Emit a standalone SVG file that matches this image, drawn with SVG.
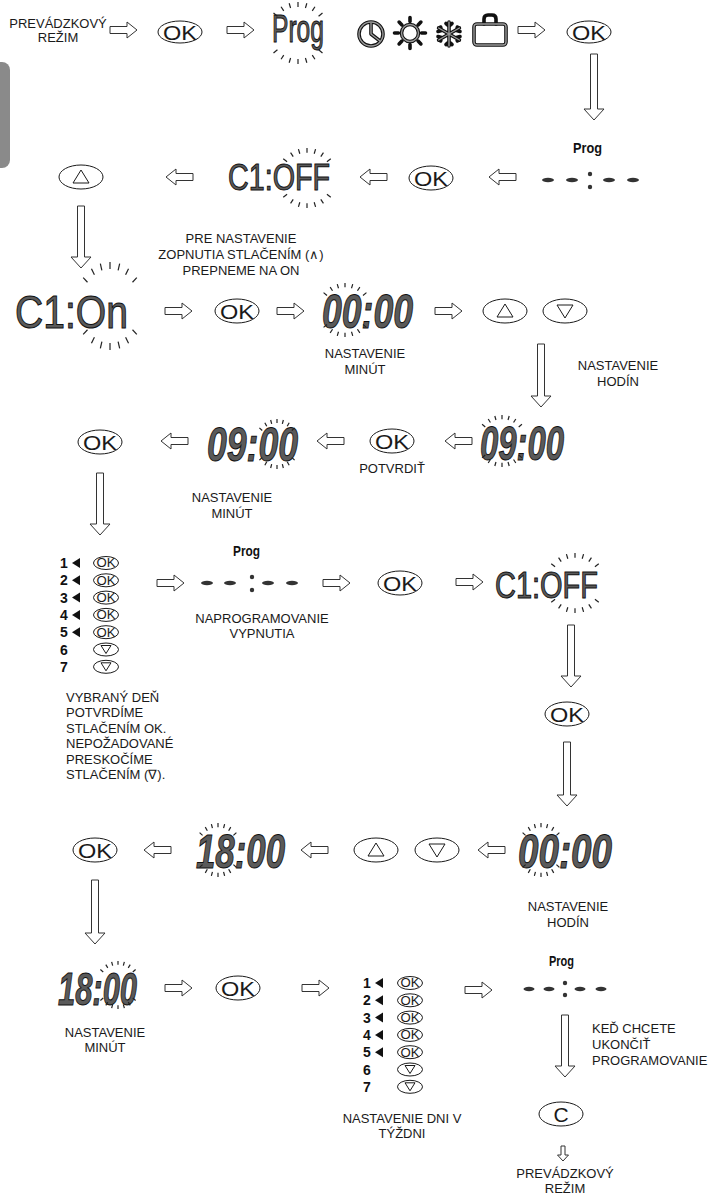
<svg xmlns="http://www.w3.org/2000/svg" xmlns:xlink="http://www.w3.org/1999/xlink" width="713" height="1196" viewBox="0 0 713 1196">
<style>
.lbl{font-family:"Liberation Sans",Arial,sans-serif;font-size:13px;fill:#1a1a1a}
.c{text-anchor:middle}
.ov{fill:#fff;stroke:#1a1a1a;stroke-width:1}
.ok{font-family:"Liberation Sans",Arial,sans-serif;font-size:21px;fill:#1a1a1a;text-anchor:middle}
.oks{font-family:"Liberation Sans",Arial,sans-serif;font-size:12px;fill:#1a1a1a;text-anchor:middle}
.arr{fill:#fff;stroke:#333;stroke-width:1}
.lcd{font-family:"Liberation Sans",Arial,sans-serif;font-style:italic;font-weight:bold;fill:#5a5a5a;stroke:#111;stroke-width:1}
.big{font-family:"Liberation Sans",Arial,sans-serif;fill:#5a5a5a;stroke:#111;stroke-width:1}
.prog{font-family:"Liberation Sans",Arial,sans-serif;font-weight:bold;font-size:14px;fill:#111}
.num{font-family:"Liberation Sans",Arial,sans-serif;font-weight:bold;font-size:14px;fill:#111}
.tick{stroke:#222;stroke-width:1.2;fill:none}
.dash{fill:#333}
.tri{fill:none;stroke:#1a1a1a;stroke-width:1}
.ico{fill:none;stroke:#111;stroke-width:3.6;stroke-linecap:round;stroke-linejoin:round}
.ico2{fill:none;stroke:#9a9a9a;stroke-width:1.4;stroke-linecap:round;stroke-linejoin:round}
.larr{fill:#111}
</style>
<defs>
<path id="ra" d="M0,-3.5H17V-8L27,0L17,8V3.5H0Z"/>
<path id="la" d="M27,-3.5H10V-8L0,0L10,8V3.5H27Z"/>
<g id="burst" class="tick">
<line x1="-0.643" y1="-0.540" x2="-0.766" y2="-0.643" vector-effect="non-scaling-stroke"/>
<line x1="-0.445" y1="-0.712" x2="-0.530" y2="-0.848" vector-effect="non-scaling-stroke"/>
<line x1="-0.232" y1="-0.807" x2="-0.276" y2="-0.961" vector-effect="non-scaling-stroke"/>
<line x1="0" y1="-0.84" x2="0" y2="-1" vector-effect="non-scaling-stroke"/>
<line x1="0.232" y1="-0.807" x2="0.276" y2="-0.961" vector-effect="non-scaling-stroke"/>
<line x1="0.445" y1="-0.712" x2="0.530" y2="-0.848" vector-effect="non-scaling-stroke"/>
<line x1="0.643" y1="-0.540" x2="0.766" y2="-0.643" vector-effect="non-scaling-stroke"/>
<line x1="-0.643" y1="0.540" x2="-0.766" y2="0.643" vector-effect="non-scaling-stroke"/>
<line x1="-0.445" y1="0.712" x2="-0.530" y2="0.848" vector-effect="non-scaling-stroke"/>
<line x1="-0.232" y1="0.807" x2="-0.276" y2="0.961" vector-effect="non-scaling-stroke"/>
<line x1="0" y1="0.84" x2="0" y2="1" vector-effect="non-scaling-stroke"/>
<line x1="0.232" y1="0.807" x2="0.276" y2="0.961" vector-effect="non-scaling-stroke"/>
<line x1="0.445" y1="0.712" x2="0.530" y2="0.848" vector-effect="non-scaling-stroke"/>
<line x1="0.643" y1="0.540" x2="0.766" y2="0.643" vector-effect="non-scaling-stroke"/>
</g>
</defs>
<rect x="0" y="0" width="713" height="1196" fill="#fff"/>
<rect x="-10" y="62" width="20" height="106" rx="8" fill="#8a8a8a"/>

<g id="connectors">
<use href="#ra" class="arr" x="110" y="30"/>
<use href="#ra" class="arr" x="227" y="30"/>
<use href="#ra" class="arr" x="518" y="30"/>
<path class="arr" d="M590.5,54V109H584L594,120L604,109H597.5V54Z"/>
<use href="#la" class="arr" x="489" y="177"/>
<use href="#la" class="arr" x="360" y="177"/>
<use href="#la" class="arr" x="166" y="177"/>
<path class="arr" d="M77.5,206V257H71L81,268L91,257H84.5V206Z"/>
<use href="#ra" class="arr" x="165" y="311"/>
<use href="#ra" class="arr" x="277" y="311"/>
<use href="#ra" class="arr" x="435" y="311"/>
<path class="arr" d="M537.5,344V396H531L541,407L551,396H544.5V344Z"/>
<use href="#la" class="arr" x="445" y="441"/>
<use href="#la" class="arr" x="317" y="441"/>
<use href="#la" class="arr" x="161" y="441"/>
<path class="arr" d="M96.5,473V524H90L100,535L110,524H103.5V473Z"/>
<use href="#ra" class="arr" x="157" y="583"/>
<use href="#ra" class="arr" x="323" y="583"/>
<use href="#ra" class="arr" x="456" y="582"/>
<path class="arr" d="M567.5,625V676H561L571,687L581,676H574.5V625Z"/>
<path class="arr" d="M563.5,742V795H557L567,806L577,795H570.5V742Z"/>
<use href="#la" class="arr" x="144" y="850"/>
<use href="#la" class="arr" x="301" y="850"/>
<use href="#la" class="arr" x="478" y="850"/>
<path class="arr" d="M91.5,880V933H85L95,944L105,933H98.5V880Z"/>
<use href="#ra" class="arr" x="165" y="988"/>
<use href="#ra" class="arr" x="302" y="988"/>
<use href="#ra" class="arr" x="465" y="990"/>
<path class="arr" d="M561.5,1015V1066H555L565,1077L575,1066H568.5V1015Z"/>
<path class="arr" d="M561,1146V1155H557.5L563,1161L568.5,1155H565V1146Z"/>
</g>

<g id="n-mode-start">
<text class="lbl c" x="58" y="27.5">PREVÁDZKOVÝ</text>
<text class="lbl c" x="58" y="41.5">REŽIM</text>
</g>
<g id="n-ok1"><ellipse class="ov" cx="180" cy="32" rx="22" ry="11"/><text class="ok" x="180" y="39.5" textLength="34" lengthAdjust="spacingAndGlyphs">OK</text></g>
<g id="n-prog1">
<text class="big" x="272" y="42" font-size="38" textLength="52" lengthAdjust="spacingAndGlyphs">Prog</text>
<use href="#burst" transform="translate(298,33) scale(32,31)"/>
</g>
<g id="n-icons">
<circle class="ico" cx="371" cy="34" r="12"/><path class="ico" d="M371,23V34L380,41"/>
<circle class="ico2" cx="371" cy="34" r="12"/><path class="ico2" d="M371,23V34L380,41"/>
<g>
<circle class="ico" cx="410" cy="33" r="8.5"/>
<path class="ico" d="M410,21.5v-4M410,44.5v4M398.5,33h-4M421.5,33h4M401.9,24.9l-2.8,-2.8M418.1,24.9l2.8,-2.8M401.9,41.1l-2.8,2.8M418.1,41.1l2.8,2.8"/>
<circle class="ico2" cx="410" cy="33" r="8.5"/>
</g>
<g>
<path class="ico" d="M449,22V46M438.6,28L459.4,40M438.6,40L459.4,28M446,23.5L449,26L452,23.5M446,44.5L449,42L452,44.5M438,31.5L441.5,30.5L440.6,27M460,31.5L456.5,30.5L457.4,27M438,36.5L441.5,37.5L440.6,41M460,36.5L456.5,37.5L457.4,41"/>
<path class="ico2" d="M449,22V46M438.6,28L459.4,40M438.6,40L459.4,28"/>
</g>
<g>
<rect class="ico" x="474" y="24" width="32" height="21" rx="3"/>
<path class="ico" d="M484,24V19Q484,15 488,15H492Q496,15 496,19V24"/>
<rect class="ico2" x="474" y="24" width="32" height="21" rx="3"/>
</g>
</g>
<g id="n-ok2"><ellipse class="ov" cx="589" cy="32" rx="22" ry="11"/><text class="ok" x="589" y="39.5" textLength="34" lengthAdjust="spacingAndGlyphs">OK</text></g>

<g id="n-disp-r2">
<text class="prog" x="573" y="153" textLength="29" lengthAdjust="spacingAndGlyphs">Prog</text>
<ellipse class="dash" cx="548" cy="180" rx="6" ry="2.2"/>
<ellipse class="dash" cx="572" cy="180" rx="6" ry="2.2"/>
<circle class="dash" cx="590" cy="174" r="2.2"/>
<circle class="dash" cx="590" cy="187" r="2.2"/>
<ellipse class="dash" cx="609" cy="180" rx="6" ry="2.2"/>
<ellipse class="dash" cx="633" cy="180" rx="6" ry="2.2"/>
</g>
<g id="n-ok3"><ellipse class="ov" cx="431" cy="178" rx="22" ry="12"/><text class="ok" x="431" y="185.5" textLength="34" lengthAdjust="spacingAndGlyphs">OK</text></g>
<g id="n-c1off-1">
<text class="big" x="228" y="190" font-size="36" textLength="102" lengthAdjust="spacingAndGlyphs">C1:OFF</text>
<use href="#burst" transform="translate(307,178) scale(31,30)"/>
</g>
<g id="n-up1"><ellipse class="ov" cx="81" cy="177" rx="22" ry="12"/><polygon class="tri" points="73,183 81,170 89,183"/></g>

<g id="n-note1">
<text class="lbl c" x="241" y="242.5">PRE NASTAVENIE</text>
<text class="lbl c" x="241" y="258.5">ZOPNUTIA STLAČENÍM (∧)</text>
<text class="lbl c" x="241" y="274.5">PREPNEME NA ON</text>
</g>
<g id="n-c1on">
<text class="big" x="15" y="328" font-size="46" textLength="113" lengthAdjust="spacingAndGlyphs">C1:On</text>
<use href="#burst" transform="translate(110,306) scale(35,44)"/>
</g>
<g id="n-ok4"><ellipse class="ov" cx="237" cy="311" rx="22" ry="12"/><text class="ok" x="237" y="318.5" textLength="34" lengthAdjust="spacingAndGlyphs">OK</text></g>
<g id="n-0000-1">
<text class="lcd" x="322" y="328" font-size="48" textLength="91" lengthAdjust="spacingAndGlyphs">00:00</text>
<use href="#burst" transform="translate(345,310) scale(28,27)"/>
<text class="lbl c" x="365" y="357.5">NASTAVENIE</text>
<text class="lbl c" x="365" y="373.5">MINÚT</text>
</g>
<g id="n-updown1">
<ellipse class="ov" cx="505" cy="311" rx="22" ry="12"/><polygon class="tri" points="497,317 505,304 513,317"/>
<ellipse class="ov" cx="565" cy="311" rx="22" ry="12"/><polygon class="tri" points="557,305 573,305 565,318"/>
</g>
<g id="n-note-hod1">
<text class="lbl c" x="618" y="369.5">NASTAVENIE</text>
<text class="lbl c" x="618" y="385.5">HODÍN</text>
</g>

<g id="n-0900-r">
<text class="lcd" x="480" y="460" font-size="48" textLength="84" lengthAdjust="spacingAndGlyphs">09:00</text>
<use href="#burst" transform="translate(502,441) scale(26,26)"/>
</g>
<g id="n-ok5"><ellipse class="ov" cx="392" cy="441" rx="22" ry="12"/><text class="ok" x="392" y="448.5" textLength="34" lengthAdjust="spacingAndGlyphs">OK</text>
<text class="lbl c" x="392" y="472.5">POTVRDIŤ</text></g>
<g id="n-0900-l">
<text class="lcd" x="207" y="461" font-size="48" textLength="91" lengthAdjust="spacingAndGlyphs">09:00</text>
<use href="#burst" transform="translate(277,444) scale(23,25)"/>
<text class="lbl c" x="232" y="501.5">NASTAVENIE</text>
<text class="lbl c" x="232" y="517.5">MINÚT</text>
</g>
<g id="n-ok6"><ellipse class="ov" cx="100" cy="442" rx="22" ry="12"/><text class="ok" x="100" y="449.5" textLength="34" lengthAdjust="spacingAndGlyphs">OK</text></g>

<g id="n-days1">
<text class="num" x="60" y="568">1</text><polygon class="larr" points="80,558 72,563 80,568"/>
<ellipse class="ov" cx="106" cy="563" rx="12.5" ry="6.5"/><text class="oks" x="106" y="567.3" textLength="19" lengthAdjust="spacingAndGlyphs">OK</text>
<text class="num" x="60" y="585.3">2</text><polygon class="larr" points="80,575.3 72,580.3 80,585.3"/>
<ellipse class="ov" cx="106" cy="580.3" rx="12.5" ry="6.5"/><text class="oks" x="106" y="584.6" textLength="19" lengthAdjust="spacingAndGlyphs">OK</text>
<text class="num" x="60" y="602.6">3</text><polygon class="larr" points="80,592.6 72,597.6 80,602.6"/>
<ellipse class="ov" cx="106" cy="597.6" rx="12.5" ry="6.5"/><text class="oks" x="106" y="601.9" textLength="19" lengthAdjust="spacingAndGlyphs">OK</text>
<text class="num" x="60" y="619.9">4</text><polygon class="larr" points="80,609.9 72,614.9 80,619.9"/>
<ellipse class="ov" cx="106" cy="614.9" rx="12.5" ry="6.5"/><text class="oks" x="106" y="619.2" textLength="19" lengthAdjust="spacingAndGlyphs">OK</text>
<text class="num" x="60" y="637.2">5</text><polygon class="larr" points="80,627.2 72,632.2 80,637.2"/>
<ellipse class="ov" cx="106" cy="632.2" rx="12.5" ry="6.5"/><text class="oks" x="106" y="636.5" textLength="19" lengthAdjust="spacingAndGlyphs">OK</text>
<text class="num" x="60" y="654.5">6</text>
<ellipse class="ov" cx="106" cy="649.5" rx="12.5" ry="6.5"/><polygon class="tri" points="101,645.5 111,645.5 106,653.5"/>
<text class="num" x="60" y="671.8">7</text>
<ellipse class="ov" cx="106" cy="666.8" rx="12.5" ry="6.5"/><polygon class="tri" points="101,662.8 111,662.8 106,670.8"/>
</g>
<g id="n-note-days1">
<text class="lbl" x="66" y="701.5">VYBRANÝ DEŇ</text>
<text class="lbl" x="66" y="717">POTVRDÍME</text>
<text class="lbl" x="66" y="732.5">STLAČENÍM OK.</text>
<text class="lbl" x="66" y="748">NEPOŽADOVANÉ</text>
<text class="lbl" x="66" y="763.5">PRESKOČÍME</text>
<text class="lbl" x="66" y="779">STLAČENÍM (∇).</text>
</g>
<g id="n-disp-r5">
<text class="prog" x="233" y="556" textLength="27" lengthAdjust="spacingAndGlyphs">Prog</text>
<ellipse class="dash" cx="207" cy="583" rx="6" ry="2.2"/>
<ellipse class="dash" cx="230" cy="583" rx="6" ry="2.2"/>
<circle class="dash" cx="252" cy="577" r="2.2"/>
<circle class="dash" cx="252" cy="590" r="2.2"/>
<ellipse class="dash" cx="268" cy="583" rx="6" ry="2.2"/>
<ellipse class="dash" cx="292" cy="583" rx="6" ry="2.2"/>
<text class="lbl c" x="262" y="622.5">NAPROGRAMOVANIE</text>
<text class="lbl c" x="262" y="637.5">VYPNUTIA</text>
</g>
<g id="n-ok7"><ellipse class="ov" cx="400" cy="583" rx="22" ry="12"/><text class="ok" x="400" y="590.5" textLength="34" lengthAdjust="spacingAndGlyphs">OK</text></g>
<g id="n-c1off-2">
<text class="big" x="495" y="598" font-size="36" textLength="103" lengthAdjust="spacingAndGlyphs">C1:OFF</text>
<use href="#burst" transform="translate(575,583) scale(31,30)"/>
</g>
<g id="n-ok8"><ellipse class="ov" cx="567" cy="714" rx="22" ry="12"/><text class="ok" x="567" y="721.5" textLength="34" lengthAdjust="spacingAndGlyphs">OK</text></g>

<g id="n-0000-2">
<text class="lcd" x="518" y="868" font-size="48" textLength="94" lengthAdjust="spacingAndGlyphs">00:00</text>
<use href="#burst" transform="translate(541,850) scale(24,27)"/>
<text class="lbl c" x="568" y="911">NASTAVENIE</text>
<text class="lbl c" x="568" y="927">HODÍN</text>
</g>
<g id="n-updown2">
<ellipse class="ov" cx="376" cy="850" rx="22" ry="12"/><polygon class="tri" points="368,856 376,843 384,856"/>
<ellipse class="ov" cx="437" cy="850" rx="22" ry="12"/><polygon class="tri" points="429,844 445,844 437,857"/>
</g>
<g id="n-1800-1">
<text class="lcd" x="196" y="868" font-size="48" textLength="89" lengthAdjust="spacingAndGlyphs">18:00</text>
<use href="#burst" transform="translate(218,850) scale(24,27)"/>
</g>
<g id="n-ok9"><ellipse class="ov" cx="95" cy="850" rx="22" ry="12"/><text class="ok" x="95" y="857.5" textLength="34" lengthAdjust="spacingAndGlyphs">OK</text></g>

<g id="n-1800-2">
<text class="lcd" x="58" y="1005" font-size="46" textLength="79" lengthAdjust="spacingAndGlyphs">18:00</text>
<use href="#burst" transform="translate(118,985) scale(23,24)"/>
<text class="lbl c" x="105" y="1036.5">NASTAVENIE</text>
<text class="lbl c" x="105" y="1051.5">MINÚT</text>
</g>
<g id="n-ok10"><ellipse class="ov" cx="238" cy="988" rx="22" ry="12"/><text class="ok" x="238" y="995.5" textLength="34" lengthAdjust="spacingAndGlyphs">OK</text></g>
<g id="n-days2">
<text class="num" x="363" y="988">1</text><polygon class="larr" points="383,978 375,983 383,988"/>
<ellipse class="ov" cx="410" cy="983" rx="12.5" ry="6.5"/><text class="oks" x="410" y="987.3" textLength="19" lengthAdjust="spacingAndGlyphs">OK</text>
<text class="num" x="363" y="1005.3">2</text><polygon class="larr" points="383,995.3 375,1000.3 383,1005.3"/>
<ellipse class="ov" cx="410" cy="1000.3" rx="12.5" ry="6.5"/><text class="oks" x="410" y="1004.6" textLength="19" lengthAdjust="spacingAndGlyphs">OK</text>
<text class="num" x="363" y="1022.6">3</text><polygon class="larr" points="383,1012.6 375,1017.6 383,1022.6"/>
<ellipse class="ov" cx="410" cy="1017.6" rx="12.5" ry="6.5"/><text class="oks" x="410" y="1021.9" textLength="19" lengthAdjust="spacingAndGlyphs">OK</text>
<text class="num" x="363" y="1039.9">4</text><polygon class="larr" points="383,1029.9 375,1034.9 383,1039.9"/>
<ellipse class="ov" cx="410" cy="1034.9" rx="12.5" ry="6.5"/><text class="oks" x="410" y="1039.2" textLength="19" lengthAdjust="spacingAndGlyphs">OK</text>
<text class="num" x="363" y="1057.2">5</text><polygon class="larr" points="383,1047.2 375,1052.2 383,1057.2"/>
<ellipse class="ov" cx="410" cy="1052.2" rx="12.5" ry="6.5"/><text class="oks" x="410" y="1056.5" textLength="19" lengthAdjust="spacingAndGlyphs">OK</text>
<text class="num" x="363" y="1074.5">6</text>
<ellipse class="ov" cx="410" cy="1069.5" rx="12.5" ry="6.5"/><polygon class="tri" points="405,1065.5 415,1065.5 410,1073.5"/>
<text class="num" x="363" y="1091.8">7</text>
<ellipse class="ov" cx="410" cy="1086.8" rx="12.5" ry="6.5"/><polygon class="tri" points="405,1082.8 415,1082.8 410,1090.8"/>
<text class="lbl c" x="402" y="1122.5">NASTAVENIE DNI V</text>
<text class="lbl c" x="402" y="1137.5">TÝŽDNI</text>
</g>
<g id="n-disp-r7">
<text class="prog" x="549" y="966" textLength="25" lengthAdjust="spacingAndGlyphs">Prog</text>
<ellipse class="dash" cx="529" cy="989" rx="5.5" ry="2.2"/>
<ellipse class="dash" cx="549" cy="989" rx="5.5" ry="2.2"/>
<circle class="dash" cx="565" cy="983" r="2.2"/>
<circle class="dash" cx="565" cy="995" r="2.2"/>
<ellipse class="dash" cx="580" cy="989" rx="5.5" ry="2.2"/>
<ellipse class="dash" cx="601" cy="989" rx="5.5" ry="2.2"/>
</g>
<g id="n-note-end">
<text class="lbl" x="592" y="1032.5">KEĎ CHCETE</text>
<text class="lbl" x="592" y="1048.5">UKONČIŤ</text>
<text class="lbl" x="592" y="1064.5">PROGRAMOVANIE</text>
</g>
<g id="n-c"><ellipse class="ov" cx="561" cy="1114" rx="22" ry="12"/><text class="ok" x="561" y="1121.5">C</text></g>
<g id="n-mode-end">
<text class="lbl c" x="565" y="1177.5">PREVÁDZKOVÝ</text>
<text class="lbl c" x="565" y="1192.5">REŽIM</text>
</g>
</svg>
